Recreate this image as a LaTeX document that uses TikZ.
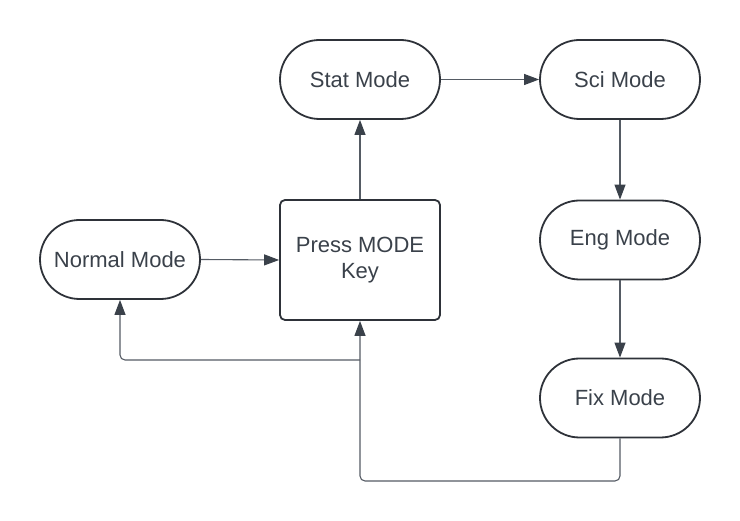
\documentclass[tikz,border=0pt]{standalone}
\usepackage{fontspec}
\setmainfont{Liberation Sans}
\usetikzlibrary{arrows.meta,shapes.misc}
\definecolor{nodeline}{HTML}{2E3239}
\definecolor{txt}{HTML}{3A414A}
\definecolor{conn}{HTML}{555B64}
\definecolor{tip}{HTML}{3A414A}
\tikzset{
  stadium/.style={draw=nodeline, line width=1.8pt, rounded rectangle, minimum width=160pt, minimum height=79pt, inner sep=0pt, text=txt, font=\fontsize{22}{26}\selectfont, align=center},
  keybox/.style={draw=nodeline, line width=1.8pt, rectangle, rounded corners=5pt, minimum width=160pt, minimum height=120pt, inner sep=0pt, text=txt, font=\fontsize{22}{26}\selectfont, align=center},
  conn/.style={draw=conn, line width=1.1pt, rounded corners=5pt, -{Triangle[length=15pt,width=11pt,color=tip]}}
}
\begin{document}
\begin{tikzpicture}[x=1pt,y=-1pt]
\useasboundingbox (0,0) rectangle (740,521);
\node[stadium] (normal) at (120,259.5) {Normal Mode};
\node[keybox] (press) at (360,260) {Press MODE\\Key};
\node[stadium] (stat) at (360,79.5) {Stat Mode};
\node[stadium] (sci) at (620,79.5) {Sci Mode};
\node[stadium] (eng) at (620,240) {Eng Mode};
\node[stadium] (fix) at (620,398) {Fix Mode};
\coordinate (j) at (360,360);
\draw[conn] (normal.east) -- (press.west);
\draw[conn] (press.north) -- (stat.south);
\draw[conn] (stat.east) -- (sci.west);
\draw[conn] (sci.south) -- (eng.north);
\draw[conn] (eng.south) -- (fix.north);
\draw[conn] (fix.south) -- (620,481) -- (360,481) -- (press.south);
\draw[conn] (j) -- (120,360) -- (normal.south);
\end{tikzpicture}
\end{document}
